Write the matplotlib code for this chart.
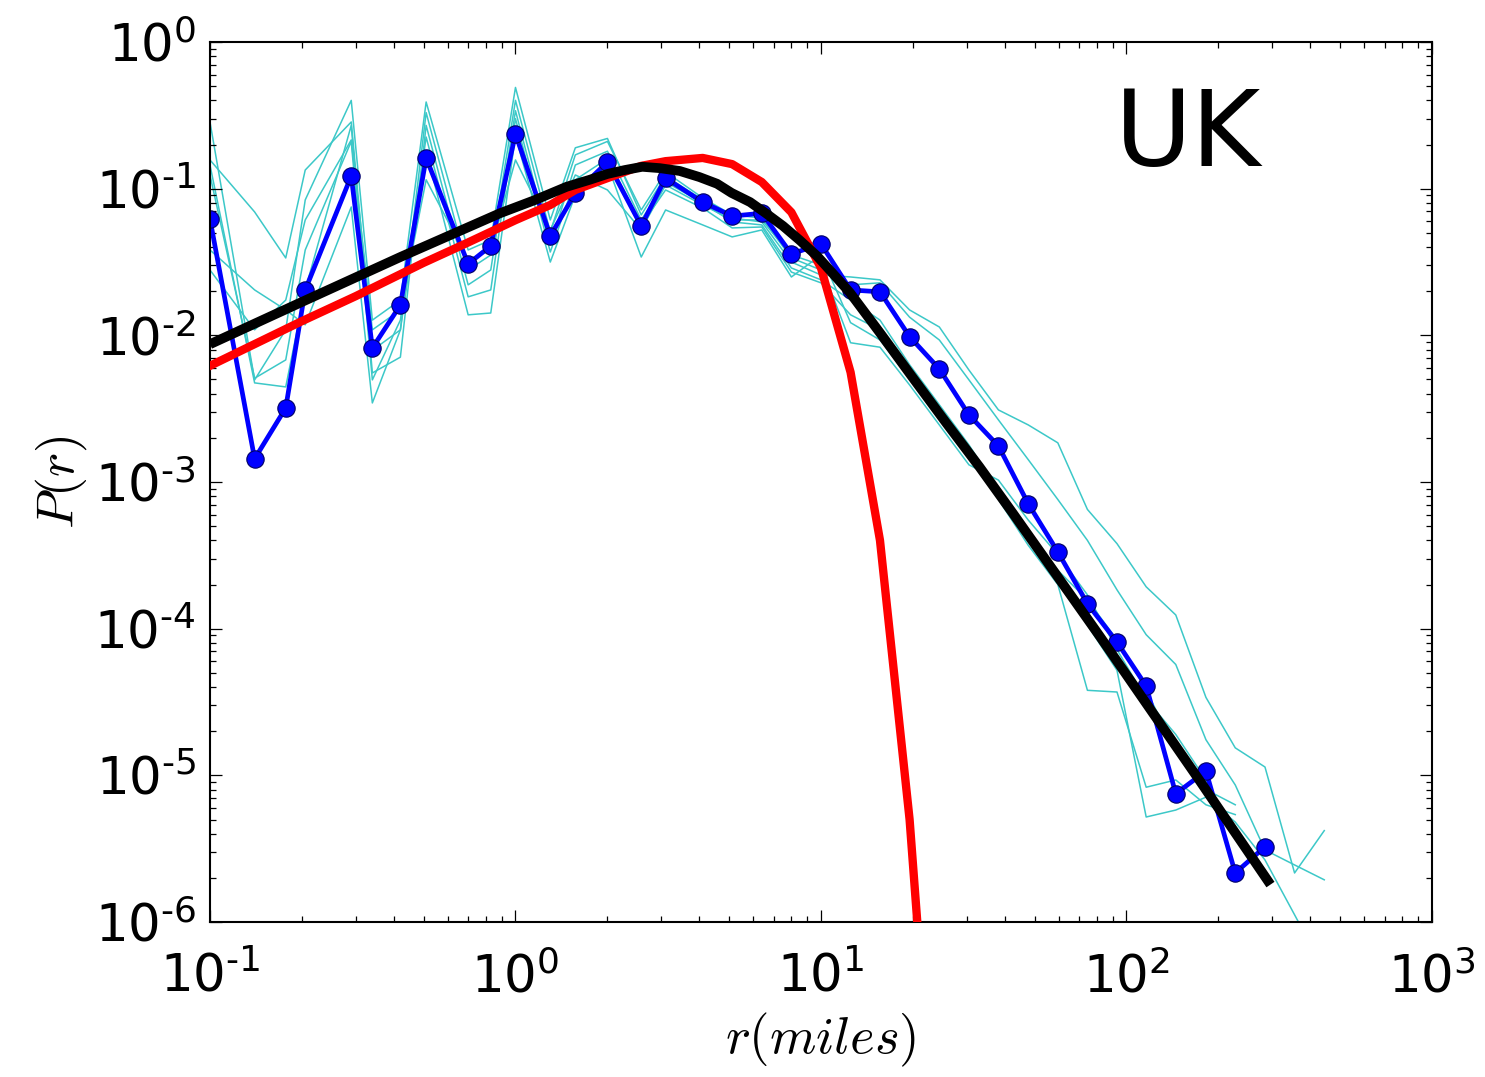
import numpy as np
import matplotlib
matplotlib.use("Agg")
import matplotlib.pyplot as plt
from matplotlib.ticker import FuncFormatter

plt.rcParams["mathtext.fontset"] = "cm"
plt.rcParams["axes.unicode_minus"] = False

# gemessene Verteilung (blaue Punkte)
r_blue = [0.1, 0.14, 0.177, 0.205, 0.29, 0.34, 0.42, 0.51, 0.70, 0.83, 1.0, 1.3,
          1.57, 2.0, 2.58, 3.1, 4.1, 5.12, 6.4, 8.0, 10.0, 12.5, 15.6, 19.5, 24.4,
          30.5, 38.1, 47.7, 59.6, 74.5, 93.1, 116, 145, 182, 227, 284]
p_blue = [0.062, 0.00144, 0.0032, 0.0204, 0.122, 0.0082, 0.0161, 0.162, 0.0307,
          0.0407, 0.236, 0.0476, 0.0935, 0.152, 0.0557, 0.118, 0.081, 0.065, 0.068,
          0.0359, 0.042, 0.0204, 0.0198, 0.0098, 0.0059, 0.00287, 0.00176, 0.00071,
          0.000334, 0.000148, 8.1e-5, 4.07e-5, 7.5e-6, 1.07e-5, 2.16e-6, 3.26e-6]

# einzelne Teilmengen (cyan), gleiche Stuetzstellen, teils laenger
r_cyan = r_blue + [355, 444]
p_cyan1 = [0.285, 0.00497, 0.0109, 0.0838, 0.40, 0.0127, 0.0174, 0.39, 0.0382, 0.0447,
           0.49, 0.0612, 0.19, 0.22, 0.0662, 0.122, 0.0838, 0.0631, 0.0593, 0.0316,
           0.0258, 0.025, 0.0239, 0.0149, 0.0114, 0.0058, 0.0031, 0.00245, 0.00185,
           0.00065, 0.00038, 0.000193, 0.000124, 3.4e-5, 1.54e-5, 1.14e-5, 2.16e-6, 4.2e-6]
p_cyan2 = [0.157, 0.0694, 0.0337, 0.134, 0.285, 0.0079, 0.0109, 0.33, 0.0279, 0.0353,
           0.40, 0.0507, 0.17, 0.21, 0.0716, 0.13, 0.0865, 0.0662, 0.0631, 0.0337,
           0.0279, 0.0221, 0.0228, 0.0133, 0.0093, 0.00497, 0.00265, 0.00142, 0.00076,
           0.00040, 0.000184, 9.1e-5, 5.7e-5, 1.75e-5, 8.6e-6, 3.1e-6, 2.45e-6, 1.94e-6]
p_cyan3 = [0.145, 0.00474, 0.00445, 0.0204, 0.27, 0.00554, 0.0071, 0.27, 0.0221, 0.0279,
           0.34, 0.0413, 0.145, 0.18, 0.0612, 0.111, 0.080, 0.0593, 0.0566, 0.0288,
           0.0239, 0.0174, 0.0127, 0.0063, 0.00336, 0.00179, 0.00088, 0.00047, 0.00025,
           0.000157, 8.4e-5, 3.8e-5, 1.5e-5, 8.0e-6, 6.3e-6]
p_cyan4 = [0.124, 0.0051, 0.0068, 0.0382, 0.21, 0.00497, 0.0127, 0.225, 0.0183, 0.0204,
           0.30, 0.037, 0.115, 0.16, 0.0566, 0.098, 0.0738, 0.054, 0.0548, 0.027,
           0.0228, 0.0138, 0.0109, 0.0056, 0.003, 0.0016, 0.00076, 0.00037, 0.0002,
           3.8e-5, 3.7e-5, 8.3e-6, 9.3e-6, 6.3e-6, 5.4e-6]
p_cyan5 = [0.0382, 0.0204, 0.0149, 0.0118, 0.075, 0.00346, 0.0109, 0.18, 0.0138, 0.0142,
           0.23, 0.0316, 0.0906, 0.145, 0.0342, 0.0716, 0.0566, 0.0469, 0.0523, 0.025,
           0.0353, 0.0122, 0.0093, 0.0051, 0.00273, 0.00146, 0.00082, 0.0004, 0.000215,
           0.000106, 5.2e-5, 5.2e-6, 5.8e-6, 7.1e-6, 4.8e-6, 2.65e-6, 1.12e-6, 4.7e-7]
p_cyan6 = [0.0279, 0.0109, 0.0174, 0.0612, 0.215, 0.0109, 0.0149, 0.115, 0.0327, 0.0382,
           0.157, 0.0523, 0.124, 0.098, 0.0523, 0.106, 0.0774, 0.0612, 0.0612, 0.0353,
           0.0302, 0.0089, 0.0083, 0.00459, 0.00245, 0.00131, 0.00103, 0.00055, 0.00032,
           0.00017, 7.2e-5, 3.3e-5, 1.9e-5, 9.3e-6, 3.75e-6, 2.27e-6]
cyan_lines = [p_cyan1, p_cyan2, p_cyan3, p_cyan4, p_cyan5, p_cyan6]

# Modellkurven (rot und schwarz)
r_red = [0.1, 0.2, 0.3, 0.5, 0.7, 1.0, 1.3, 1.57, 2.0, 2.58, 3.1, 4.1, 5.12, 6.4,
         8.0, 10.0, 12.5, 15.6, 19.5, 24.4]
p_red = [0.0062, 0.0125, 0.0185, 0.0312, 0.043, 0.061, 0.0774, 0.098, 0.118, 0.143,
         0.154, 0.162, 0.147, 0.111, 0.069, 0.0288, 0.0056, 4.0e-4, 5.0e-6, 1e-8]

r_black = [0.1, 0.2, 0.42, 0.89, 1.16, 1.47, 1.75, 2.0, 2.28, 2.6, 2.97, 3.45, 4.0,
           4.57, 5.1, 5.86, 6.6, 7.51, 8.5, 9.7, 10.9, 12.45, 15.6, 19.9, 25.7, 33,
           42.4, 82, 173, 296]
p_black = [0.0087, 0.0169, 0.0342, 0.068, 0.0838, 0.103, 0.115, 0.126, 0.134, 0.141,
           0.138, 0.132, 0.120, 0.108, 0.0935, 0.081, 0.068, 0.0557, 0.0447, 0.0348,
           0.0266, 0.0195, 0.0104, 0.0052, 0.00253, 0.00127, 6.15e-4, 8.8e-5, 9.3e-6,
           1.8e-6]


# Zehnerpotenzen mit kurzem Bindestrich wie im alten Stil
def dekade(v, pos):
    e = int(round(np.log10(v)))
    s = "\u2010" + str(-e) if e < 0 else str(e)
    return r"$\mathdefault{10^{" + s + "}}$"


fig = plt.figure(figsize=(14.85, 10.77), dpi=100)
ax = fig.add_axes([0.1414, 0.1439, 0.8229, 0.8171])

for p in cyan_lines:
    ax.plot(r_cyan[:len(p)], p, color="#3cc8c8", lw=1.1, zorder=1)

ax.plot(r_blue, p_blue, "-o", color="#0000ff", lw=3.4, ms=12.5,
        mec="#000066", mew=0.8, zorder=2)
ax.plot(r_red, p_red, color="#ff0000", lw=6.0, zorder=3)
ax.plot(r_black, p_black, color="black", lw=7.0, solid_capstyle="butt",
        solid_joinstyle="round", zorder=4)

ax.set_xscale("log")
ax.set_yscale("log")
ax.set_xlim(0.1, 1000)
ax.set_ylim(1e-6, 1)
ax.xaxis.set_major_formatter(FuncFormatter(dekade))
ax.yaxis.set_major_formatter(FuncFormatter(dekade))

ax.xaxis.set_tick_params(which="major", direction="in", top=True, length=8.5,
                         width=0.9, labelsize=37, pad=22)
ax.xaxis.set_tick_params(which="minor", direction="in", top=True, length=4.5,
                         width=0.9)
ax.yaxis.set_tick_params(which="major", direction="in", right=True, length=8.5,
                         width=0.9, labelsize=37, pad=10)
ax.yaxis.set_tick_params(which="minor", direction="in", right=True, length=4.5,
                         width=0.9)
for s in ax.spines.values():
    s.set_linewidth(1.5)

ax.set_xlabel(r"$r(miles)$", fontsize=38, labelpad=5)
ax.set_ylabel(r"$P(r)$", fontsize=37, labelpad=4)

ax.text(0.80, 0.892, "UK", transform=ax.transAxes, fontsize=76,
        ha="center", va="center")

fig.savefig("out.png", dpi=100)
